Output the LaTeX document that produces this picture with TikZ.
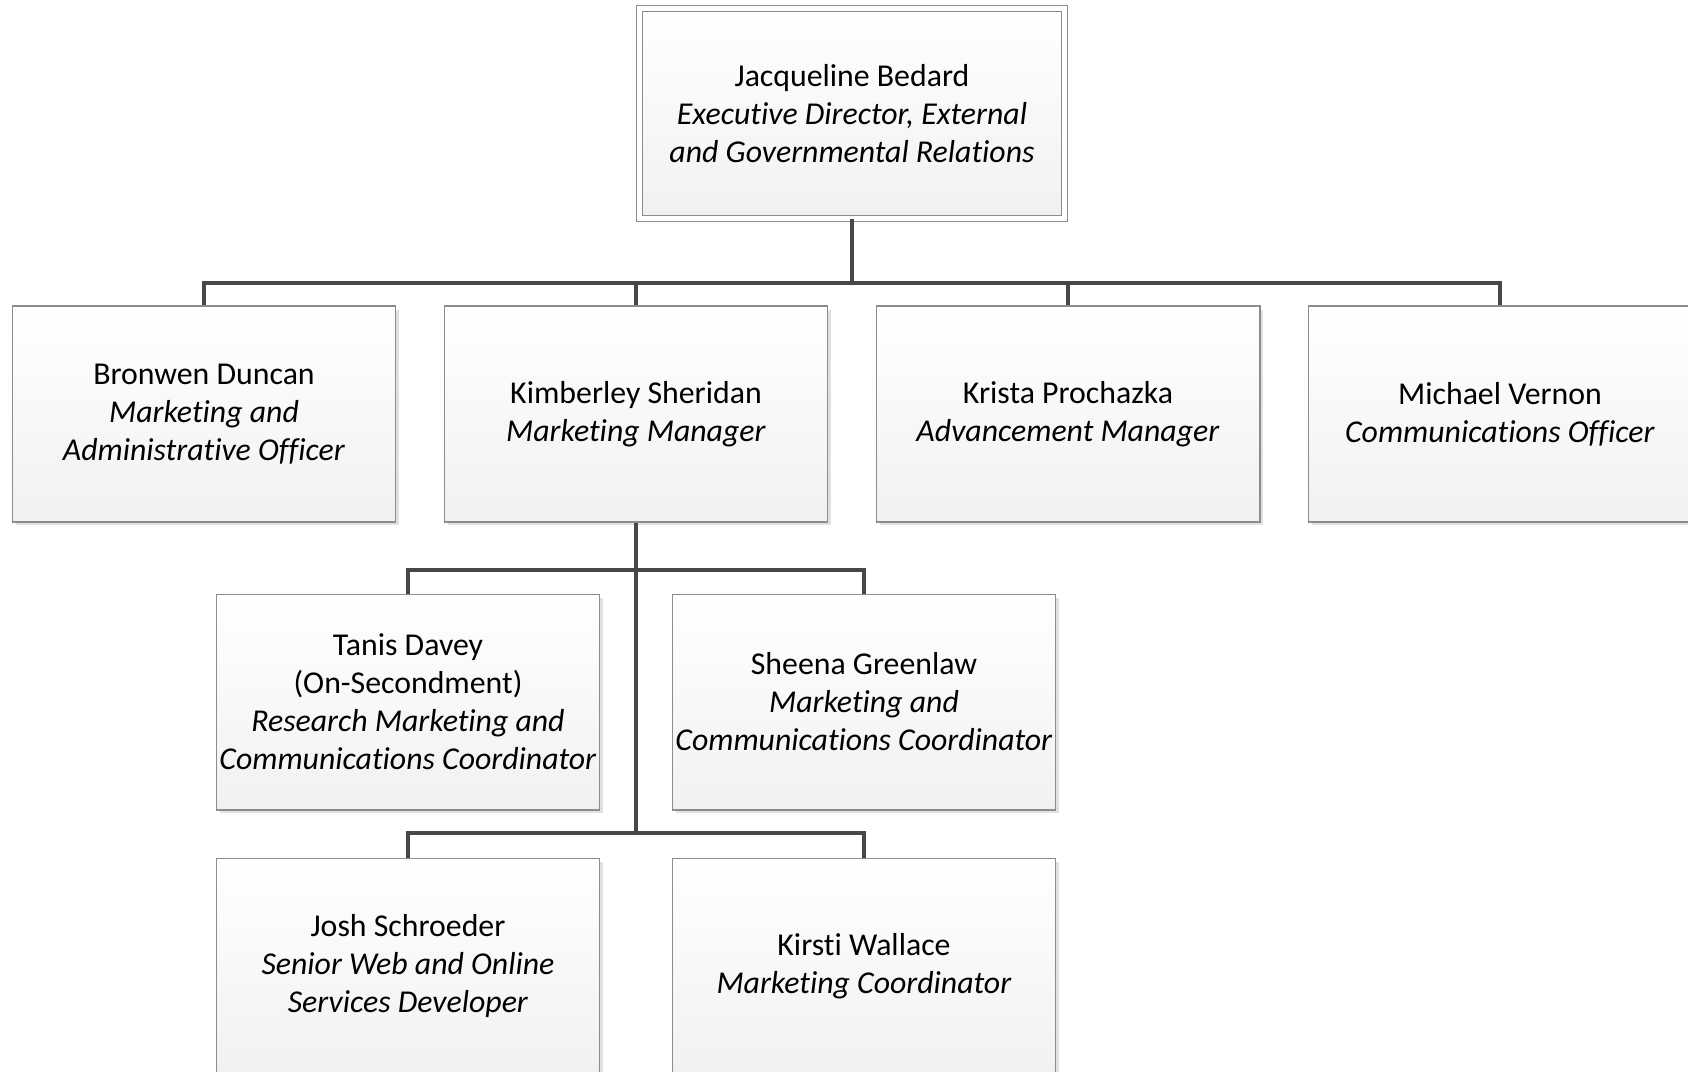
\documentclass[tikz,border=0pt]{standalone}
\usepackage{fontspec}
\setmainfont{Carlito}[Ligatures={NoCommon,NoContextual}]
\usepackage{tikz}
\usetikzlibrary{shadows}

\begin{document}
\begin{tikzpicture}[x=0.02cm, y=-0.02cm,
    person/.style={draw=gray!90, line width=0.6pt, top color=white, bottom color=gray!11,
        minimum width=7.68cm, minimum height=4.32cm, inner sep=0pt, align=center,
        font=\fontsize{18.1}{21.6}\selectfont,
        drop shadow={shadow xshift=0.07cm, shadow yshift=-0.07cm, fill=gray!40, opacity=0.6}},
    head/.style={person, double=white, double distance=0.09cm,
        minimum width=8.51cm, minimum height=4.21cm},
    link/.style={draw=black!72, line width=2pt}]
    % Draw page
    \clip (0,0) rectangle (1688,1072);
    \fill[white] (0,0) rectangle (1688,1072);
    % Draw head
    \node[head] (jb) at (852,113.5) {Jacqueline Bedard\\\textit{Executive Director, External}\\\textit{and Governmental Relations}};
    % Draw first row
    \node[person] (bd) at (204,414) {Bronwen Duncan\\\textit{Marketing and}\\\textit{Administrative Officer}};
    \node[person] (ks) at (636,414) {Kimberley Sheridan\\\textit{Marketing Manager}};
    \node[person] (kp) at (1068,414) {Krista Prochazka\\\textit{Advancement Manager}};
    \node[person] (mv) at (1500,414) {Michael Vernon\\\textit{Communications Officer}};
    % Draw second row
    \node[person] (td) at (408,702) {Tanis Davey\\(On-Secondment)\\\textit{Research Marketing and}\\\textit{Communications Coordinator}};
    \node[person] (sg) at (864,702) {Sheena Greenlaw\\\textit{Marketing and}\\\textit{Communications Coordinator}};
    % Draw third row
    \node[person] (js) at (408,966) {Josh Schroeder\\\textit{Senior Web and Online}\\\textit{Services Developer}};
    \node[person] (kw) at (864,966) {Kirsti Wallace\\\textit{Marketing Coordinator}};
    % Draw links
    \coordinate (bus1) at (852,283);
    \coordinate (bus2) at (636,570);
    \coordinate (bus3) at (636,833);
    \draw[link] (jb.south) -- (bus1);
    \foreach \n in {bd,ks,kp,mv} {
        \draw[link] (bus1) -| (\n.north);
    }
    \draw[link] (ks.south) -- (bus3);
    \foreach \n in {td,sg} {
        \draw[link] (bus2) -| (\n.north);
    }
    \foreach \n in {js,kw} {
        \draw[link] (bus3) -| (\n.north);
    }
\end{tikzpicture}
\end{document}
